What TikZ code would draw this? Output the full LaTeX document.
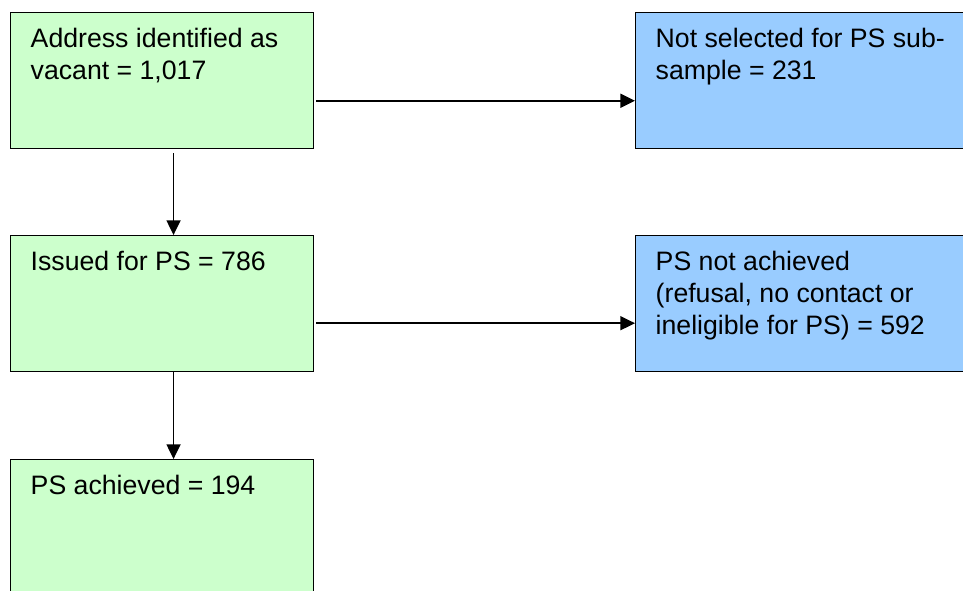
\documentclass[tikz,border=0pt]{standalone}
\usepackage{fontspec}
\setmainfont{Liberation Sans}
\usetikzlibrary{arrows.meta,positioning,calc}
\definecolor{boxgreen}{HTML}{CCFFCC}
\definecolor{boxblue}{HTML}{99CCFF}
% text set at the top left of a box
\newcommand{\boxtext}[2]{\parbox[t][83pt][t]{#1}{\raggedright\strut #2}}
\begin{document}
\begin{tikzpicture}[x=0.75pt,y=-0.75pt,>={Triangle[length=11pt,width=10.5pt]},
    flowbox/.style={draw,line width=1.1pt,anchor=north west,inner xsep=15pt,inner ysep=9.5pt,
      font=\fontsize{20}{24}\selectfont},
    greenbox/.style={flowbox,fill=boxgreen},
    bluebox/.style={flowbox,fill=boxblue},
    flowarrow/.style={->,line width=1.2pt}]
    \clip (0,0) rectangle (963,590);
    % left column
    \node[greenbox] (addr) at (10,12) {\boxtext{197pt}{Address identified as\\vacant = 1,017}};
    \node[greenbox] (issued) at (10,235) {\boxtext{197pt}{Issued for PS = 786}};
    \node[greenbox] (achieved) at (10,459) {\boxtext{197pt}{PS achieved = 194}};
    % right column
    \node[bluebox] (notsel) at (635,12) {\boxtext{222pt}{Not selected for PS sub-\\sample = 231}};
    \node[bluebox] (notach) at (635,235) {\boxtext{222pt}{PS not achieved\\(refusal, no contact or\\ineligible for PS) = 592}};
    % arrows
    \draw[flowarrow] ([xshift=8.6pt,yshift=-3pt]addr.south) -- ([xshift=8.6pt]issued.north);
    \draw[flowarrow] ([xshift=8.6pt]issued.south) -- ([xshift=8.6pt]achieved.north);
    \draw[flowarrow] ([xshift=1.5pt,yshift=-15pt]addr.east) -- ([yshift=-15pt]notsel.west);
    \draw[flowarrow] ([xshift=1.5pt,yshift=-14.6pt]issued.east) -- ([yshift=-14.6pt]notach.west);
\end{tikzpicture}
\end{document}
